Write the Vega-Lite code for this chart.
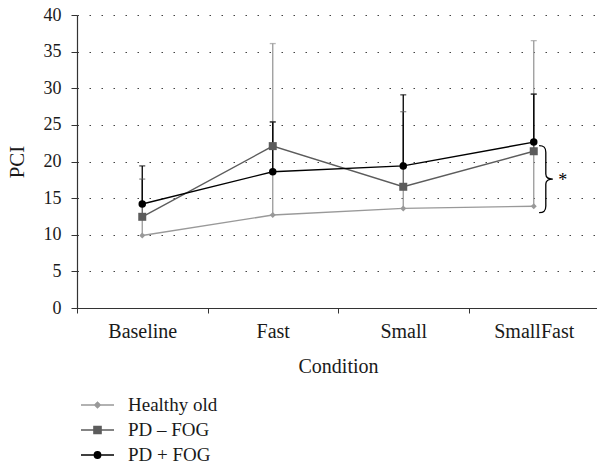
{
  "$schema": "https://vega.github.io/schema/vega-lite/v6.json",
  "width": 522,
  "height": 293,
  "autosize": {"type": "none"},
  "padding": {"left": 77, "top": 15, "right": 0, "bottom": 159},
  "background": "white",
  "config": {"font": "Liberation Serif", "view": {"stroke": null}, "axisY": {"tickCount": 9}},
  "data": {
    "values": [
      {"condition": "Baseline", "group": "Healthy old", "mean": 9.9, "upper": 12.45},
      {"condition": "Fast", "group": "Healthy old", "mean": 12.7, "upper": 36.1},
      {"condition": "Small", "group": "Healthy old", "mean": 13.6, "upper": 16.5},
      {"condition": "SmallFast", "group": "Healthy old", "mean": 13.9, "upper": 36.5},
      {"condition": "Baseline", "group": "PD – FOG", "mean": 12.45, "upper": 17.6},
      {"condition": "Fast", "group": "PD – FOG", "mean": 22.1, "upper": 25.4},
      {"condition": "Small", "group": "PD – FOG", "mean": 16.55, "upper": 26.8},
      {"condition": "SmallFast", "group": "PD – FOG", "mean": 21.4, "upper": 29.2},
      {"condition": "Baseline", "group": "PD + FOG", "mean": 14.2, "upper": 19.4},
      {"condition": "Fast", "group": "PD + FOG", "mean": 18.6, "upper": 25.4},
      {"condition": "Small", "group": "PD + FOG", "mean": 19.4, "upper": 29.1},
      {"condition": "SmallFast", "group": "PD + FOG", "mean": 22.65, "upper": 29.2}
    ]
  },
  "encoding": {
    "x": {
      "field": "condition",
      "type": "nominal",
      "sort": ["Baseline", "Fast", "Small", "SmallFast"],
      "scale": {"paddingInner": 0, "paddingOuter": 0},
      "axis": {
        "title": "Condition",
        "labelAngle": 0,
        "tickBand": "extent",
        "tickSize": 5,
        "labelPadding": 8,
        "labelFontSize": 20,
        "labelColor": "#1a1a1a",
        "titleFontSize": 20,
        "titleFontWeight": "normal",
        "titleColor": "#1a1a1a",
        "titlePadding": 15,
        "domainColor": "#333333",
        "tickColor": "#333333",
        "domainWidth": 1.2
      }
    }
  },
  "layer": [
    {
      "mark": {"type": "rule", "strokeWidth": 1.3},
      "encoding": {
        "y": {"field": "mean", "type": "quantitative", "scale": {"domain": [0, 40]}, "axis": {"title": "PCI", "values": [0, 5, 10, 15, 20, 25, 30, 35, 40], "tickCount": 9, "grid": true, "gridDash": [1.5, 10.5], "gridColor": "#444444", "gridWidth": 1.2, "tickSize": 6, "tickColor": "#333333", "domainColor": "#333333", "domainWidth": 1.2, "labelFontSize": 18, "labelColor": "#1a1a1a", "labelPadding": 10, "titleFontSize": 21, "titleFontWeight": "normal", "titleColor": "#1a1a1a", "titlePadding": 16}},
        "y2": {"field": "upper"},
        "color": {
          "field": "group", "type": "nominal",
          "scale": {"domain": ["Healthy old", "PD – FOG", "PD + FOG"], "range": ["#999999", "#5c5c5c", "#000000"]},
          "legend": {"orient": "none", "legendX": 9.5, "legendY": 379, "padding": 0, "direction": "vertical", "title": null, "symbolSize": 400, "labelFontSize": 19, "labelColor": "#1a1a1a", "labelOffset": 19.5, "rowPadding": 4,
            "encode": {"symbols": {"update": {
              "shape": {"signal": "datum.value === 'Healthy old' ? 'M-1.65,0L1.65,0M-0.28,0L0,-0.28L0.28,0L0,0.28Z' : datum.value === 'PD – FOG' ? 'M-1.65,0L1.65,0M-0.36,-0.36L0.36,-0.36L0.36,0.36L-0.36,0.36Z' : 'M-1.65,0L1.65,0M0.32,0A0.32,0.32 0 1,1 -0.32,0A0.32,0.32 0 1,1 0.32,0Z'"},
              "stroke": {"signal": "scale('color', datum.value)"},
              "fill": {"signal": "scale('color', datum.value)"},
              "strokeWidth": {"value": 1.4},
              "opacity": {"value": 1}}}}}
        }
      }
    },
    {
      "mark": {"type": "tick", "orient": "horizontal", "size": 6, "thickness": 1.3},
      "encoding": {
        "y": {"field": "upper", "type": "quantitative", "scale": {"domain": [0, 40]}, "axis": {"title": "PCI", "values": [0, 5, 10, 15, 20, 25, 30, 35, 40], "tickCount": 9, "grid": true, "gridDash": [1.5, 10.5], "gridColor": "#444444", "gridWidth": 1.2, "tickSize": 6, "tickColor": "#333333", "domainColor": "#333333", "domainWidth": 1.2, "labelFontSize": 18, "labelColor": "#1a1a1a", "labelPadding": 10, "titleFontSize": 21, "titleFontWeight": "normal", "titleColor": "#1a1a1a", "titlePadding": 16}},
        "color": {
          "field": "group", "type": "nominal",
          "legend": {"orient": "none", "legendX": 9.5, "legendY": 379, "padding": 0, "direction": "vertical", "title": null, "symbolSize": 400, "labelFontSize": 19, "labelColor": "#1a1a1a", "labelOffset": 19.5, "rowPadding": 4,
            "encode": {"symbols": {"update": {
              "shape": {"signal": "datum.value === 'Healthy old' ? 'M-1.65,0L1.65,0M-0.28,0L0,-0.28L0.28,0L0,0.28Z' : datum.value === 'PD – FOG' ? 'M-1.65,0L1.65,0M-0.36,-0.36L0.36,-0.36L0.36,0.36L-0.36,0.36Z' : 'M-1.65,0L1.65,0M0.32,0A0.32,0.32 0 1,1 -0.32,0A0.32,0.32 0 1,1 0.32,0Z'"},
              "stroke": {"signal": "scale('color', datum.value)"},
              "fill": {"signal": "scale('color', datum.value)"},
              "strokeWidth": {"value": 1.4},
              "opacity": {"value": 1}}}}}
        }
      }
    },
    {
      "mark": {"type": "line", "strokeWidth": 1.4},
      "encoding": {
        "y": {"field": "mean", "type": "quantitative", "scale": {"domain": [0, 40]}, "axis": {"title": "PCI", "values": [0, 5, 10, 15, 20, 25, 30, 35, 40], "tickCount": 9, "grid": true, "gridDash": [1.5, 10.5], "gridColor": "#444444", "gridWidth": 1.2, "tickSize": 6, "tickColor": "#333333", "domainColor": "#333333", "domainWidth": 1.2, "labelFontSize": 18, "labelColor": "#1a1a1a", "labelPadding": 10, "titleFontSize": 21, "titleFontWeight": "normal", "titleColor": "#1a1a1a", "titlePadding": 16}},
        "color": {
          "field": "group", "type": "nominal",
          "legend": {"orient": "none", "legendX": 9.5, "legendY": 379, "padding": 0, "direction": "vertical", "title": null, "symbolSize": 400, "labelFontSize": 19, "labelColor": "#1a1a1a", "labelOffset": 19.5, "rowPadding": 4,
            "encode": {"symbols": {"update": {
              "shape": {"signal": "datum.value === 'Healthy old' ? 'M-1.65,0L1.65,0M-0.28,0L0,-0.28L0.28,0L0,0.28Z' : datum.value === 'PD – FOG' ? 'M-1.65,0L1.65,0M-0.36,-0.36L0.36,-0.36L0.36,0.36L-0.36,0.36Z' : 'M-1.65,0L1.65,0M0.32,0A0.32,0.32 0 1,1 -0.32,0A0.32,0.32 0 1,1 0.32,0Z'"},
              "stroke": {"signal": "scale('color', datum.value)"},
              "fill": {"signal": "scale('color', datum.value)"},
              "strokeWidth": {"value": 1.4},
              "opacity": {"value": 1}}}}}
        }
      }
    },
    {
      "transform": [{"filter": "datum.group === 'Healthy old'"}],
      "mark": {"type": "point", "filled": true, "opacity": 1, "shape": "diamond", "size": 36, "color": "#999999"},
      "encoding": {
        "y": {"field": "mean", "type": "quantitative", "scale": {"domain": [0, 40]}, "axis": {"title": "PCI", "values": [0, 5, 10, 15, 20, 25, 30, 35, 40], "tickCount": 9, "grid": true, "gridDash": [1.5, 10.5], "gridColor": "#444444", "gridWidth": 1.2, "tickSize": 6, "tickColor": "#333333", "domainColor": "#333333", "domainWidth": 1.2, "labelFontSize": 18, "labelColor": "#1a1a1a", "labelPadding": 10, "titleFontSize": 21, "titleFontWeight": "normal", "titleColor": "#1a1a1a", "titlePadding": 16}}
      }
    },
    {
      "transform": [{"filter": "datum.group === 'PD – FOG'"}],
      "mark": {"type": "point", "filled": true, "opacity": 1, "shape": "square", "size": 64, "color": "#5c5c5c"},
      "encoding": {
        "y": {"field": "mean", "type": "quantitative", "scale": {"domain": [0, 40]}, "axis": {"title": "PCI", "values": [0, 5, 10, 15, 20, 25, 30, 35, 40], "tickCount": 9, "grid": true, "gridDash": [1.5, 10.5], "gridColor": "#444444", "gridWidth": 1.2, "tickSize": 6, "tickColor": "#333333", "domainColor": "#333333", "domainWidth": 1.2, "labelFontSize": 18, "labelColor": "#1a1a1a", "labelPadding": 10, "titleFontSize": 21, "titleFontWeight": "normal", "titleColor": "#1a1a1a", "titlePadding": 16}}
      }
    },
    {
      "transform": [{"filter": "datum.group === 'PD + FOG'"}],
      "mark": {"type": "point", "filled": true, "opacity": 1, "shape": "circle", "size": 56, "color": "#000000"},
      "encoding": {
        "y": {"field": "mean", "type": "quantitative", "scale": {"domain": [0, 40]}, "axis": {"title": "PCI", "values": [0, 5, 10, 15, 20, 25, 30, 35, 40], "tickCount": 9, "grid": true, "gridDash": [1.5, 10.5], "gridColor": "#444444", "gridWidth": 1.2, "tickSize": 6, "tickColor": "#333333", "domainColor": "#333333", "domainWidth": 1.2, "labelFontSize": 18, "labelColor": "#1a1a1a", "labelPadding": 10, "titleFontSize": 21, "titleFontWeight": "normal", "titleColor": "#1a1a1a", "titlePadding": 16}}
      }
    },
    {
      "data": {"values": [{"condition": "SmallFast", "y": 17.6}]},
      "mark": {"type": "point", "filled": false, "stroke": "#000000", "strokeWidth": 1.3, "opacity": 1, "size": 4489, "shape": "M0.16,-1C0.3,-1 0.36,-0.95 0.36,-0.8L0.36,-0.15C0.36,-0.03 0.45,0 0.57,0C0.45,0 0.36,0.03 0.36,0.15L0.36,0.8C0.36,0.95 0.3,1 0.16,1"},
      "encoding": {
        "y": {"field": "y", "type": "quantitative", "scale": {"domain": [0, 40]}, "axis": {"title": "PCI", "values": [0, 5, 10, 15, 20, 25, 30, 35, 40], "tickCount": 9, "grid": true, "gridDash": [1.5, 10.5], "gridColor": "#444444", "gridWidth": 1.2, "tickSize": 6, "tickColor": "#333333", "domainColor": "#333333", "domainWidth": 1.2, "labelFontSize": 18, "labelColor": "#1a1a1a", "labelPadding": 10, "titleFontSize": 21, "titleFontWeight": "normal", "titleColor": "#1a1a1a", "titlePadding": 16}}
      }
    },
    {
      "data": {"values": [{"condition": "SmallFast", "y": 17.7, "label": "*"}]},
      "mark": {"type": "text", "dx": 29, "dy": 3, "fontSize": 18, "color": "#000000"},
      "encoding": {
        "y": {"field": "y", "type": "quantitative", "scale": {"domain": [0, 40]}, "axis": {"title": "PCI", "values": [0, 5, 10, 15, 20, 25, 30, 35, 40], "tickCount": 9, "grid": true, "gridDash": [1.5, 10.5], "gridColor": "#444444", "gridWidth": 1.2, "tickSize": 6, "tickColor": "#333333", "domainColor": "#333333", "domainWidth": 1.2, "labelFontSize": 18, "labelColor": "#1a1a1a", "labelPadding": 10, "titleFontSize": 21, "titleFontWeight": "normal", "titleColor": "#1a1a1a", "titlePadding": 16}},
        "text": {"field": "label"}
      }
    }
  ]
}
